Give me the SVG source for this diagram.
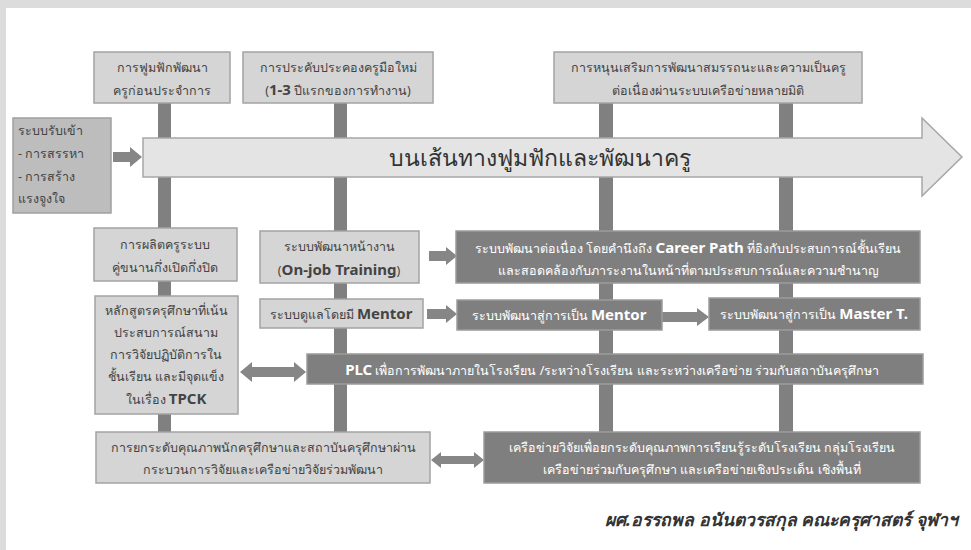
<svg xmlns="http://www.w3.org/2000/svg" width="971" height="550" viewBox="0 0 971 550">
<style>
.bg{fill:#dcdcdc}
.panel{fill:#ffffff}
.lbox{fill:#d5d5d5;stroke:#a3a3a3;stroke-width:1.5}
.mbox{fill:#bdbdbd;stroke:#a0a0a0;stroke-width:1.5}
.dbox{fill:#7f7f7f;stroke:#9c9c9c;stroke-width:1.5}
.bar{fill:#808080}
.arr{fill:#868686}
.big{fill:#e4e4e4;stroke:#a6a6a6;stroke-width:1.5}
text{font-family:"Noto Sans","Liberation Sans",sans-serif}
.t{font-size:12.5px;fill:#444;text-anchor:middle}
.tl{font-size:12.5px;fill:#444}
.w{font-size:12.5px;fill:#fff;text-anchor:middle}
.b{font-weight:bold;font-size:15px}
.title{font-size:23px;fill:#333;text-anchor:middle}
.credit{font-size:17.5px;fill:#333;font-style:italic;font-weight:bold}
</style>
<rect class="bg" x="0" y="0" width="971" height="550"/>
<rect class="panel" x="6" y="8" width="965" height="542"/>

<g id="connectors">
  <rect class="bar" x="158" y="103" width="13" height="329"/>
  <rect class="bar" x="334" y="103" width="13" height="329"/>
  <rect class="bar" x="599" y="103" width="14" height="329"/>
  <rect class="bar" x="779" y="103" width="14" height="329"/>
  <polygon class="arr" points="113,152 130,152 130,147 142,157 130,167 130,162 113,162"/>
  <polygon class="arr" points="429,251 446,251 446,247 457,256 446,265 446,261 429,261"/>
  <polygon class="arr" points="427,309 446,309 446,305 457,314 446,323 446,319 427,319"/>
  <polygon class="arr" points="662,312 697,312 697,308 709,317 697,326 697,322 662,322"/>
  <polygon class="arr" points="240,372 252,362 252,367 294,367 294,362 306,372 294,382 294,377 252,377 252,382"/>
  <polygon class="arr" points="431,460 441,452 441,456 474,456 474,452 484,460 474,468 474,464 441,464 441,468"/>
</g>

<g id="main-arrow">
  <polygon class="big" points="143,138 922,138 922,118 962,157 922,196 922,177 143,177"/>
  <text class="title" x="540" y="166">บนเส้นทางฟูมฟักและพัฒนาครู</text>
</g>

<g id="pre-service">
  <rect class="lbox" x="94" y="52" width="136" height="51"/>
  <text class="t" x="162" y="72">การฟูมฟักพัฒนา</text>
  <text class="t" x="162" y="95">ครูก่อนประจำการ</text>
</g>

<g id="novice">
  <rect class="lbox" x="243" y="52" width="190" height="51"/>
  <text class="t" x="338" y="72">การประคับประคองครูมือใหม่</text>
  <text class="t" x="338" y="95">(<tspan class="b">1-3</tspan> ปีแรกของการทำงาน)</text>
</g>

<g id="support">
  <rect class="lbox" x="554" y="52" width="308" height="51"/>
  <text class="t" x="708" y="72">การหนุนเสริมการพัฒนาสมรรถนะและความเป็นครู</text>
  <text class="t" x="708" y="95">ต่อเนื่องผ่านระบบเครือข่ายหลายมิติ</text>
</g>

<g id="recruit">
  <rect class="mbox" x="13" y="118" width="98" height="95"/>
  <text class="tl" x="18" y="135">ระบบรับเข้า</text>
  <text class="tl" x="18" y="158">- การสรรหา</text>
  <text class="tl" x="18" y="181">- การสร้าง</text>
  <text class="tl" x="18" y="203">แรงจูงใจ</text>
</g>

<g id="dual-track">
  <rect class="lbox" x="94" y="228" width="143" height="53"/>
  <text class="t" x="165" y="249">การผลิตครูระบบ</text>
  <text class="t" x="165" y="272">คู่ขนานกึ่งเปิดกึ่งปิด</text>
</g>

<g id="on-job">
  <rect class="lbox" x="260" y="231" width="159" height="52"/>
  <text class="t" x="339" y="251">ระบบพัฒนาหน้างาน</text>
  <text class="t" x="339" y="275">(<tspan class="b">On-job Training</tspan>)</text>
</g>

<g id="career-path">
  <rect class="dbox" x="456" y="231" width="464" height="52"/>
  <text class="w" x="688" y="253">ระบบพัฒนาต่อเนื่อง โดยคำนึงถึง <tspan class="b">Career Path</tspan> ที่อิงกับประสบการณ์ชั้นเรียน</text>
  <text class="w" x="688" y="275">และสอดคล้องกับภาระงานในหน้าที่ตามประสบการณ์และความชำนาญ</text>
</g>

<g id="mentor-care">
  <rect class="lbox" x="260" y="299" width="163" height="29"/>
  <text class="t" x="341" y="319">ระบบดูแลโดยมี <tspan class="b">Mentor</tspan></text>
</g>

<g id="to-mentor">
  <rect class="dbox" x="457" y="300" width="205" height="30"/>
  <text class="w" x="559" y="320">ระบบพัฒนาสู่การเป็น <tspan class="b">Mentor</tspan></text>
</g>

<g id="to-master">
  <rect class="dbox" x="709" y="298" width="211" height="32"/>
  <text class="w" x="814" y="319">ระบบพัฒนาสู่การเป็น <tspan class="b">Master T.</tspan></text>
</g>

<g id="curriculum">
  <rect class="lbox" x="95" y="296" width="143" height="118"/>
  <text class="t" x="166" y="315">หลักสูตรครุศึกษาที่เน้น</text>
  <text class="t" x="166" y="337">ประสบการณ์สนาม</text>
  <text class="t" x="166" y="359">การวิจัยปฏิบัติการใน</text>
  <text class="t" x="166" y="381">ชั้นเรียน และมีจุดแข็ง</text>
  <text class="t" x="166" y="404">ในเรื่อง <tspan class="b">TPCK</tspan></text>
</g>

<g id="plc">
  <rect class="dbox" x="307" y="354" width="616" height="30"/>
  <text class="w" x="612" y="375"><tspan class="b">PLC</tspan> เพื่อการพัฒนาภายในโรงเรียน /ระหว่างโรงเรียน และระหว่างเครือข่าย ร่วมกับสถาบันครุศึกษา</text>
</g>

<g id="quality">
  <rect class="lbox" x="96" y="432" width="334" height="51"/>
  <text class="t" x="263" y="452">การยกระดับคุณภาพนักครุศึกษาและสถาบันครุศึกษาผ่าน</text>
  <text class="t" x="263" y="474">กระบวนการวิจัยและเครือข่ายวิจัยร่วมพัฒนา</text>
</g>

<g id="research-network">
  <rect class="dbox" x="484" y="432" width="436" height="51"/>
  <text class="w" x="702" y="452">เครือข่ายวิจัยเพื่อยกระดับคุณภาพการเรียนรู้ระดับโรงเรียน กลุ่มโรงเรียน</text>
  <text class="w" x="702" y="474">เครือข่ายร่วมกับครุศึกษา และเครือข่ายเชิงประเด็น เชิงพื้นที่</text>
</g>

<text class="credit" x="605" y="526">ผศ.อรรถพล อนันตวรสกุล คณะครุศาสตร์ จุฬาฯ</text>
</svg>
